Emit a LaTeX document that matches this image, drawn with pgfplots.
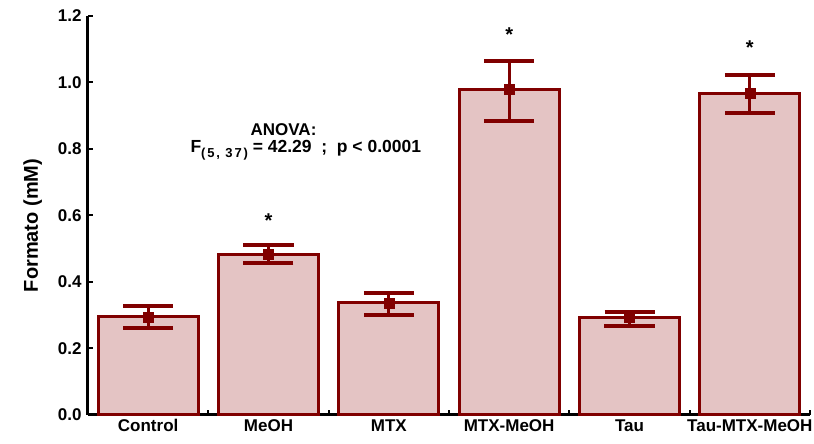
\documentclass[border=0pt]{standalone}
\usepackage{pgfplots}
\pgfplotsset{compat=1.18}
\usepackage{fontspec}
\setmainfont{Liberation Sans}
\definecolor{barline}{RGB}{128,0,0}
\definecolor{barfill}{RGB}{228,196,196}
\begin{document}
\begin{tikzpicture}
\begin{axis}[
  scale only axis,
  width=722pt, height=399pt,
  at={(0pt,0pt)}, anchor=south west,
  xmin=-0.5, xmax=5.5, ymin=0, ymax=1.2,
  axis x line*=bottom, axis y line*=left,
  axis line style={line width=3pt, black},
  xtick={0,...,5},
  xticklabels={Control,MeOH,MTX,MTX-MeOH,Tau,Tau-MTX-MeOH},
  major x tick style={draw=none},
  minor xtick={0.5,1.5,2.5,3.5,4.5,5.5},
  minor x tick style={line width=2pt, black},
  minor tick length=5pt,
  ytick={0,0.2,...,1.2},
  major y tick style={line width=2pt, black},
  major tick length=5pt,
  tick align=inside,
  /pgf/number format/fixed, /pgf/number format/fixed zerofill,
  /pgf/number format/precision=1, /pgf/number format/assume math mode=true,
  ticklabel style={font=\fontsize{17}{20}\selectfont\bfseries},
  xticklabel style={yshift=-1pt},
  yticklabel style={xshift=-3pt},
  ylabel={Formato (mM)},
  ylabel style={font=\fontsize{20}{22}\selectfont\bfseries, yshift=9pt, xshift=-10pt},
  clip=false,
]
\addplot[ybar, bar width=0.833, draw=barline, line width=3pt, fill=barfill]
  coordinates {(0,0.295) (1,0.484) (2,0.337) (3,0.980) (4,0.293) (5,0.968)};
\addplot[only marks, mark=square*, mark size=5pt, color=barline,
  error bars/.cd, y dir=both, y explicit,
  error bar style={line width=3pt, barline},
  error mark options={rotate=90, mark size=25pt, line width=4pt, barline}]
  table[x=x, y=y, y error plus=ep, y error minus=em] {
x y ep em
0 0.295 0.033 0.033
1 0.484 0.027 0.027
2 0.337 0.030 0.036
3 0.980 0.085 0.096
4 0.293 0.018 0.025
5 0.968 0.055 0.060
};
\node[font=\fontsize{20}{20}\selectfont\bfseries] at (axis cs:1,0.585) {*};
\node[font=\fontsize{20}{20}\selectfont\bfseries] at (axis cs:3,1.145) {*};
\node[font=\fontsize{20}{20}\selectfont\bfseries] at (axis cs:5,1.105) {*};
\node[font=\fontsize{17}{18}\selectfont\bfseries, anchor=base, inner sep=0pt] at (axis cs:1.125,0.842) {ANOVA:};
\node[font=\fontsize{17.5}{18}\selectfont\bfseries, anchor=base, inner sep=0pt] at (axis cs:1.31,0.788) {F\raisebox{-5pt}{\fontsize{13}{13}\selectfont\addfontfeature{LetterSpace=14}(5, 37)}\ = 42.29 \ ; \ p < 0.0001};
\end{axis}
\pgfresetboundingbox
\path[use as bounding box] (-88pt,-29pt) rectangle (726pt,415pt);
\end{tikzpicture}
\end{document}
